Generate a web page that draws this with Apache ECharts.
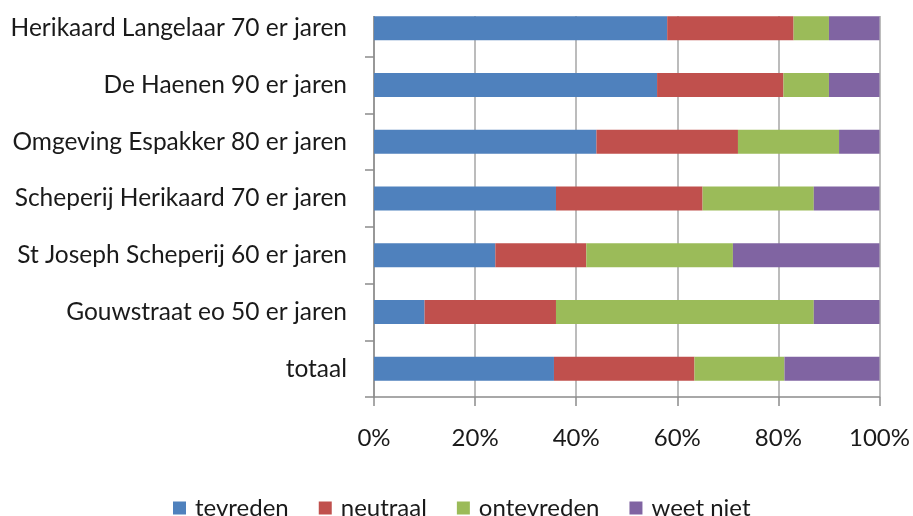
<!DOCTYPE html>
<html>
<head>
<meta charset="utf-8">
<script src="https://cdn.jsdelivr.net/npm/echarts@6/dist/echarts.min.js"></script>
<style>
  html, body { margin: 0; padding: 0; background: #fff; }
  #chart { width: 913px; height: 516px; }
</style>
</head>
<body>
<div id="chart"></div>
<script>
  // categorieën van boven naar beneden
  var categories = [
    'Herikaard Langelaar 70 er jaren',
    'De Haenen 90 er jaren',
    'Omgeving Espakker 80 er jaren',
    'Scheperij Herikaard 70 er jaren',
    'St Joseph Scheperij 60 er jaren',
    'Gouwstraat eo 50 er jaren',
    'totaal'
  ]
  var seriesNames = ['tevreden', 'neutraal', 'ontevreden', 'weet niet']
  var tevreden = [58, 56, 44, 36, 24, 10, 35.6]
  var neutraal = [25, 25, 28, 29, 18, 26, 27.8]
  var ontevreden = [7, 9, 20, 22, 29, 51, 17.8]
  var weetNiet = [10, 10, 8, 13, 29, 13, 18.8]
  var xTicks = [0, 20, 40, 60, 80, 100]

  var colors = ['#4F81BD', '#C0504D', '#9BBB59', '#8064A2']
  var values = [tevreden, neutraal, ontevreden, weetNiet]
  var font = 'Lato, "Open Sans", sans-serif'

  var myChart = echarts.init(document.getElementById('chart'))

  var series = []
  for (var i = 0; i < seriesNames.length; i++) {
    series.push({
      name: seriesNames[i],
      type: 'bar',
      stack: 'totaal',
      barWidth: 24,
      itemStyle: { color: colors[i] },
      data: values[i]
    })
  }

  var option = {
    animation: false,
    color: colors,
    grid: { left: 374, right: 33, top: 0, height: 397, containLabel: false },
    xAxis: {
      type: 'value',
      min: xTicks[0],
      max: xTicks[xTicks.length - 1],
      interval: 20,
      axisLine: { show: true, lineStyle: { color: '#8c8c8c', width: 1.5 } },
      axisTick: { show: true, length: 9, lineStyle: { color: '#8c8c8c', width: 1.5 } },
      splitLine: { show: true, lineStyle: { color: '#a6a6a6', width: 1.5 } },
      axisLabel: {
        formatter: '{value}%',
        color: '#1a1a1a',
        fontFamily: font,
        fontSize: 24,
        margin: 29
      }
    },
    yAxis: {
      type: 'category',
      inverse: true,
      data: categories,
      axisLine: { show: true, lineStyle: { color: '#8c8c8c', width: 1.5 } },
      axisTick: { show: true, length: 9, lineStyle: { color: '#8c8c8c', width: 1.5 } },
      axisLabel: {
        color: '#1a1a1a',
        fontFamily: font,
        fontSize: 24.5,
        margin: 27
      }
    },
    legend: {
      data: seriesNames,
      left: 168,
      top: 491,
      icon: 'rect',
      itemWidth: 13,
      itemHeight: 13,
      itemGap: 30,
      textStyle: { color: '#1a1a1a', fontFamily: font, fontSize: 24, padding: [0, 0, 0, 4] }
    },
    // bovenkant van het plotvlak begint pas bij de eerste balk
    graphic: [{
      type: 'rect',
      left: 355,
      top: 0,
      z: 100,
      shape: { width: 540, height: 16 },
      style: { fill: '#fff' }
    }],
    series: series
  }

  myChart.setOption(option)
</script>
</body>
</html>
